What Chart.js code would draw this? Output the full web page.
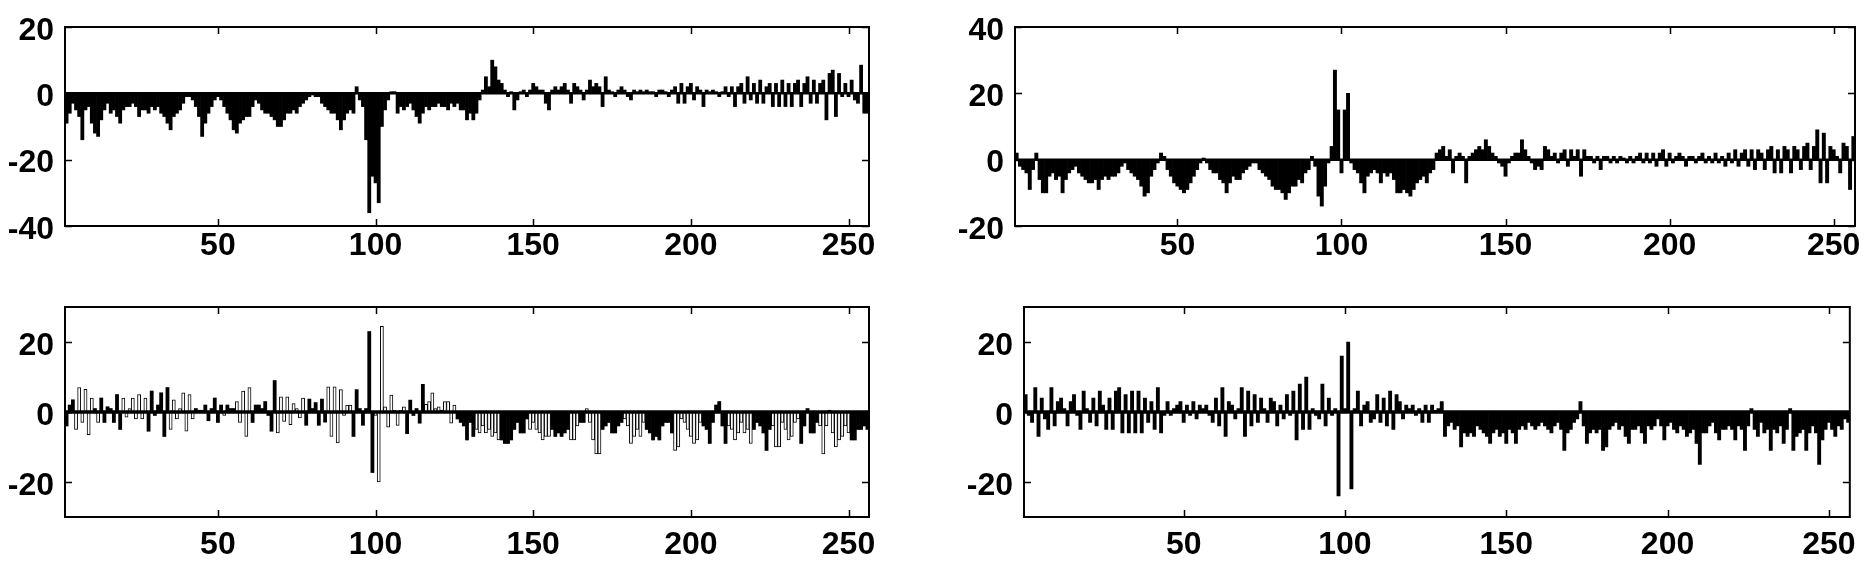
<!DOCTYPE html>
<html>
<head>
<meta charset="utf-8">
<script src="https://cdn.jsdelivr.net/npm/chart.js@4.4.1/dist/chart.umd.min.js"></script>
<style>
  body { margin: 0; background: #fff; }
  #wrap { position: relative; width: 1868px; height: 571px; }
  #wrap canvas { position: absolute; left: 0; top: 0; }
</style>
</head>
<body>
<div id="wrap">
  <canvas id="tl" width="1868" height="571"></canvas>
  <canvas id="tr" width="1868" height="571"></canvas>
  <canvas id="bl" width="1868" height="571"></canvas>
  <canvas id="br" width="1868" height="571"></canvas>
</div>
<script>
// values, index = sample number
// left panels start at sample 2, right panels at sample 1
var tlValues = [
    -9,-6,-3,-5,-7,-14,-5,-4,-9,-12,-13,-8,-5,-3,-6,-5,
    -7,-9,-5,-4,-4,-3,-4,-7,-5,-5,-6,-4,-5,-4,-6,-7,
    -9,-11,-7,-6,-5,-3,-1,-1,-2,-4,-7,-13,-9,-6,-4,-2,
    -1,-2,-4,-6,-8,-11,-12,-9,-8,-7,-7,-4,-2,-3,-5,-6,
    -6,-7,-8,-10,-10,-8,-6,-6,-5,-6,-4,-3,-2,-1,-0.5,-1,
    -1,-3,-4,-5,-6,-6,-8,-11,-8,-6,-5,-6,2,-2,-4,-14,
    -36,-25,-27,-33,-10,-5,-2,0.5,0.5,-6,-4,-5,-4,-3,-5,-7,
    -9,-6,-4,-5,-4,-4,-3,-4,-4,-5,-3,-4,-3,-5,-5,-8,
    -6,-8,-6,-2,1,5,2,10,8,4,3,1,-1,0.5,-5,-2,
    0.5,1,-1,1,3,2,1,1,-3,-5,1,2,1,2,3,1,
    -3,3,2,1,-2,1,4,2,3,2,-4,5,1,0.5,-1,1,
    2,1,-1,-2,1,0.5,1,0.5,1,0.5,0.5,-1,1,1,0.5,-1,
    1,2,-3,3,-3,2,3,-2,2,1,-4,1,0.5,1,0.5,-1,
    0.5,2,-1,2,-4,2,3,-3,5,-2,3,-3,4,-3,2,3,
    -4,3,-4,4,-4,3,-4,3,4,-4,3,5,-3,4,-3,3,
    4,-8,6,7,-7,6,-1,3,-1,4,-2,-3,8.5,-6,-6
];

var trValues = [
    2,-2,-3,-4,-9,-3,2,-6,-10,-10,-5,-4,-6,-5,-10,-6,
    -4,-3,-2,-4,-5,-6,-7,-7,-6,-9,-6,-5,-6,-5,-5,-4,
    -2,-1,-3,-4,-5,-6,-8,-11,-10,-5,-3,-1,2,1,-3,-5,
    -7,-8,-9,-10,-9,-7,-5,-3,-1,0.5,-1,-3,-4,-4,-6,-7,
    -10,-7,-5,-6,-6,-4,-3,-2,-1,-1,-3,-4,-5,-6,-8,-9,
    -9,-10,-12,-10,-8,-8,-6,-7,-4,-3,1,-2,-11,-14,-8,-1,
    4,27,15,-4,15,20,-1,-3,-4,-7,-10,-5,-4,-3,-4,-7,
    -4,-5,-4,-6,-10,-10,-9,-10,-11,-9,-7,-6,-5,-7,-4,-3,
    2,3,4,1,3,-4,1,2,1,-7,1,2,3,4,3,6,
    4,2,1,-1,-2,-5,-1,1,2,2,6,3,1,-1,-3,-2,
    -3,4,3,1,2,-1,2,3,-2,3,1,3,-5,3,1,1,
    -1,1,-3,1,1,-1,1,-1,1,0.5,-1,1,-1,1,2,-1,
    2,-1,2,-2,2,3,-2,2,-1,1,2,1,-2,1,1,-1,
    1,2,-1,1,-1,2,-1,1,-2,2,-1,3,-2,2,3,-2,
    3,-3,3,2,-3,3,4,-4,3,-4,4,3,-4,4,3,-3,
    4,5,-3,4,9,-7,8,-7,4,3,1,-4,5,4,-9,7
];

var blValues = [
    -4,2,3.5,-5,7,-3,6.5,-6.5,4,1,-3,4,-3,1.5,1,-3,
    5,-5,4,-1.5,1,4,-2,5,-2,4,-5.5,6,-1,2,5.5,-7,
    7,-5,3.5,-2,1,5.5,-5.5,5,-2,1,0.5,0.5,2,-2.5,1,4,
    -3,2,-1,2,1,1,3,-3,6,-7,7,-3,2,2,1,3,
    -1,-5.5,9,-6,4.3,-2.7,4.3,-3.6,2.4,1,-1.7,4,-3.8,3.7,1,2.7,
    -3.8,3.7,-2.9,7.2,-7,7.2,-8.8,6.4,-1,2,2,-7,6.4,1,-3.8,1,
    23,-17.3,-1,-20,24.5,1.5,-4.3,4.8,0.5,-3.8,0.5,1.5,-6.2,3.4,-1,1,
    -3.2,7.9,2.2,3,5.5,1,1.5,0.5,3,3,-3.2,2,-2,-3,-4,-8,
    -3,-7,-5,-6,-4,-6,-5,-7,-6,-8,-8,-9,-9,-8,-5,-3,
    -6,-6,-2,-5,-3,-5,-6,-8,-7,-7,-5,-7,-6,-7,-6,-5,
    -8,-8,-4,-3,-3,1,-3,-8,-12,-12,-5,-4,-3,-6,-6,-4,
    -3,-2,-4,-9,-7,-5,-7,-3,-5,-6,-8,-7,-8,-4,-3,-3,
    -6,-11,-10,-2,-3,-5,-7,-9,-8,-3,-4,-5,-9,-3,2,3,
    -4,-9,-4,-5,-8,-6,-3,-6,-5,-9,-5,-3,-4,-6,-11,-5,
    -4,-10,-10,-3,-5,-8,-7,-3,-2,-9,-4,1,-6,-6,-3,-4,
    -12,-4,0.5,-6,-10,-8,-7,-4,-6,-8,-8,-5,-5,-4,-5
];

// samples of the lower left panel that are drawn as open bars
var blOpen = [
    5,6,7,8,9,10,12,20,21,22,23,24,25,26,27,35,36,37,38,39,40,41,42,
    52,56,57,58,59,60,69,70,71,72,73,74,75,76,77,85,86,87,88,89,90,91,92,
    100,101,102,103,104,105,106,107,108,109,116,117,118,119,120,122,123,124,125,
    132,133,134,135,136,137,138,139,149,150,151,152,153,154,155,162,163,164,
    167,168,169,170,171,179,180,181,182,183,184,185,
    195,196,197,198,199,200,201,202,203,212,213,214,215,216,217,218,219,
    226,227,228,229,230,231,232,233,234,241,242,243,245,246,247,248,249,250
];

var brValues = [
    5,-1,-3,7,-7,4,-2,-5,7,-4,3,4,1,-4,3,5,
    -1,-5,6,1,-3,4,-4,6,2,-5,4,-5,6,7,-6,5,
    -6,6,-6,6,-6,4,-3,3,-5,7,-6,-1,3,-1,1,2,
    3,-3,2,-1,3,-2,2,1,2,-1,-3,4,-4,7,-7,3,
    2,-2,1,7,-7,6,-4,5,-3,4,1,-3,4,3,-4,2,
    -2,5,-1,6,-8,8,-5,10,-5,1,-1,-2,8,-4,4,-1,
    1,-24,16,1,20,-22,1,6,-4,2,3,-3,-2,5,-3,4,
    -4,6,-5,5,3,-2,2,1,2,-1,1,-3,2,-3,2,0.5,
    1,3,-7,-4,-3,-5,-4,-10,-6,-7,-6,-7,-4,-5,-6,-7,
    -9,-6,-5,-7,-6,-9,-5,-6,-9,-5,-4,-5,-3,-4,-5,-4,
    -3,-4,-5,-6,-4,-3,-5,-11,-6,-5,-3,-2,3,-4,-9,-6,
    -5,-6,-5,-11,-10,-5,-4,-3,-5,-4,-7,-9,-5,-5,-4,-6,
    -9,-4,-5,-4,-2,-4,-8,-4,-3,-5,-6,-4,-5,-7,-6,-5,
    -9,-15,-6,-6,-4,-3,-6,-8,-5,-5,-4,-5,-8,-4,-5,-11,
    -4,1,-5,-7,-3,-6,-5,-11,-5,-6,-4,-9,-5,1,-11,-7,
    -6,-5,-11,-6,-4,-6,-15,-8,-5,-3,-5,-7,-4,-5,-2,-3
];

var xTicks = [50, 100, 150, 200, 250];
var yTicksTL = [-40, -20, 0, 20];
var yTicksTR = [-20, 0, 20, 40];
var yTicksBottom = [-20, 0, 20];

const W = 1868, H = 571;
const AXIS_W = 60, AXIS_H = 50;
const tickFont = { family: "'Liberation Sans', Arial, Helvetica, sans-serif", size: 32, weight: 'bold', lineHeight: 1 };

function toPoints(values, first) {
    return values.map((v, k) => ({ x: k + first, y: v }));
}

// box frame, inward ticks and the zero line
const frame = {
    id: 'frame',
    afterDatasetsDraw(chart, args, opts) {
        const { ctx, chartArea: a, scales: { x, y } } = chart;
        ctx.save();
        ctx.strokeStyle = '#000';
        ctx.lineCap = 'butt';

        let y0 = y.getPixelForValue(0);
        ctx.lineWidth = opts.zeroWidth || 3;
        ctx.beginPath();
        ctx.moveTo(a.left, y0);
        ctx.lineTo(a.right, y0);
        ctx.stroke();

        ctx.lineWidth = 1.5;
        ctx.beginPath();
        x.ticks.forEach(t => {
            let px = Math.round(x.getPixelForValue(t.value)) + 0.5;
            ctx.moveTo(px, a.bottom); ctx.lineTo(px, a.bottom - 7);
            ctx.moveTo(px, a.top); ctx.lineTo(px, a.top + 7);
        });
        y.ticks.forEach(t => {
            let py = Math.round(y.getPixelForValue(t.value)) + 0.5;
            ctx.moveTo(a.left, py); ctx.lineTo(a.left + 7, py);
            ctx.moveTo(a.right, py); ctx.lineTo(a.right - 7, py);
        });
        ctx.stroke();

        ctx.lineWidth = 2;
        ctx.strokeRect(a.left, a.top, a.right - a.left, a.bottom - a.top);
        ctx.restore();
    }
};

function makePanel(id, datasets, box, yMin, yMax, yTicks, xMin, labelPad) {
    return new Chart(document.getElementById(id), {
        type: 'bar',
        data: { datasets: datasets },
        options: {
            responsive: false,
            animation: false,
            devicePixelRatio: 1,
            layout: {
                padding: {
                    left: box.left - AXIS_W,
                    right: W - box.right,
                    top: box.top,
                    bottom: H - box.bottom - AXIS_H
                }
            },
            plugins: {
                legend: { display: false },
                tooltip: { enabled: false },
                frame: { zeroWidth: box.zero }
            },
            scales: {
                x: {
                    type: 'linear',
                    min: xMin,
                    max: 256.5,
                    offset: false,
                    grid: { display: false, drawTicks: false },
                    border: { display: false },
                    afterBuildTicks: s => { s.ticks = xTicks.map(v => ({ value: v })); },
                    afterFit: s => { s.height = AXIS_H; },
                    ticks: { font: tickFont, color: '#000', padding: labelPad, maxRotation: 0, autoSkip: false }
                },
                y: {
                    min: yMin,
                    max: yMax,
                    grid: { display: false, drawTicks: false },
                    border: { display: false },
                    afterBuildTicks: s => { s.ticks = yTicks.map(v => ({ value: v })); },
                    afterFit: s => { s.width = AXIS_W; },
                    ticks: { font: tickFont, color: '#000', padding: 11, labelOffset: 4 }
                }
            }
        },
        plugins: [frame]
    });
}

const solid = { backgroundColor: '#000', borderWidth: 0, barPercentage: 1, categoryPercentage: 1, grouped: false };

makePanel('tl', [Object.assign({ data: toPoints(tlValues, 2) }, solid)],
    { left: 65, right: 869, top: 18, bottom: 226, zero: 2.5 }, -40, 20, yTicksTL, 1.5, 4);

makePanel('tr', [Object.assign({ data: toPoints(trValues, 1) }, solid)],
    { left: 1015, right: 1855, top: 18, bottom: 226, zero: 2.5 }, -20, 40, yTicksTR, 0.5, 4);

// lower left: filled and open bars from the same sample list
var blPoints = toPoints(blValues, 2);
var blSolid = blPoints.filter(p => blOpen.indexOf(p.x) < 0);
var blHollow = blPoints.filter(p => blOpen.indexOf(p.x) >= 0);

makePanel('bl', [
    Object.assign({ data: blSolid }, solid),
    { data: blHollow, backgroundColor: '#fff', borderColor: '#000', borderWidth: 1,
      barPercentage: 1, categoryPercentage: 1, grouped: false }
], { left: 65, right: 869, top: 307, bottom: 517, zero: 3.5 }, -30, 30, yTicksBottom, 1.5, 12);

makePanel('br', [Object.assign({ data: toPoints(brValues, 1) }, solid)],
    { left: 1024, right: 1850, top: 307, bottom: 517, zero: 3.5 }, -30, 30, yTicksBottom, 0.5, 12);
</script>
</body>
</html>
